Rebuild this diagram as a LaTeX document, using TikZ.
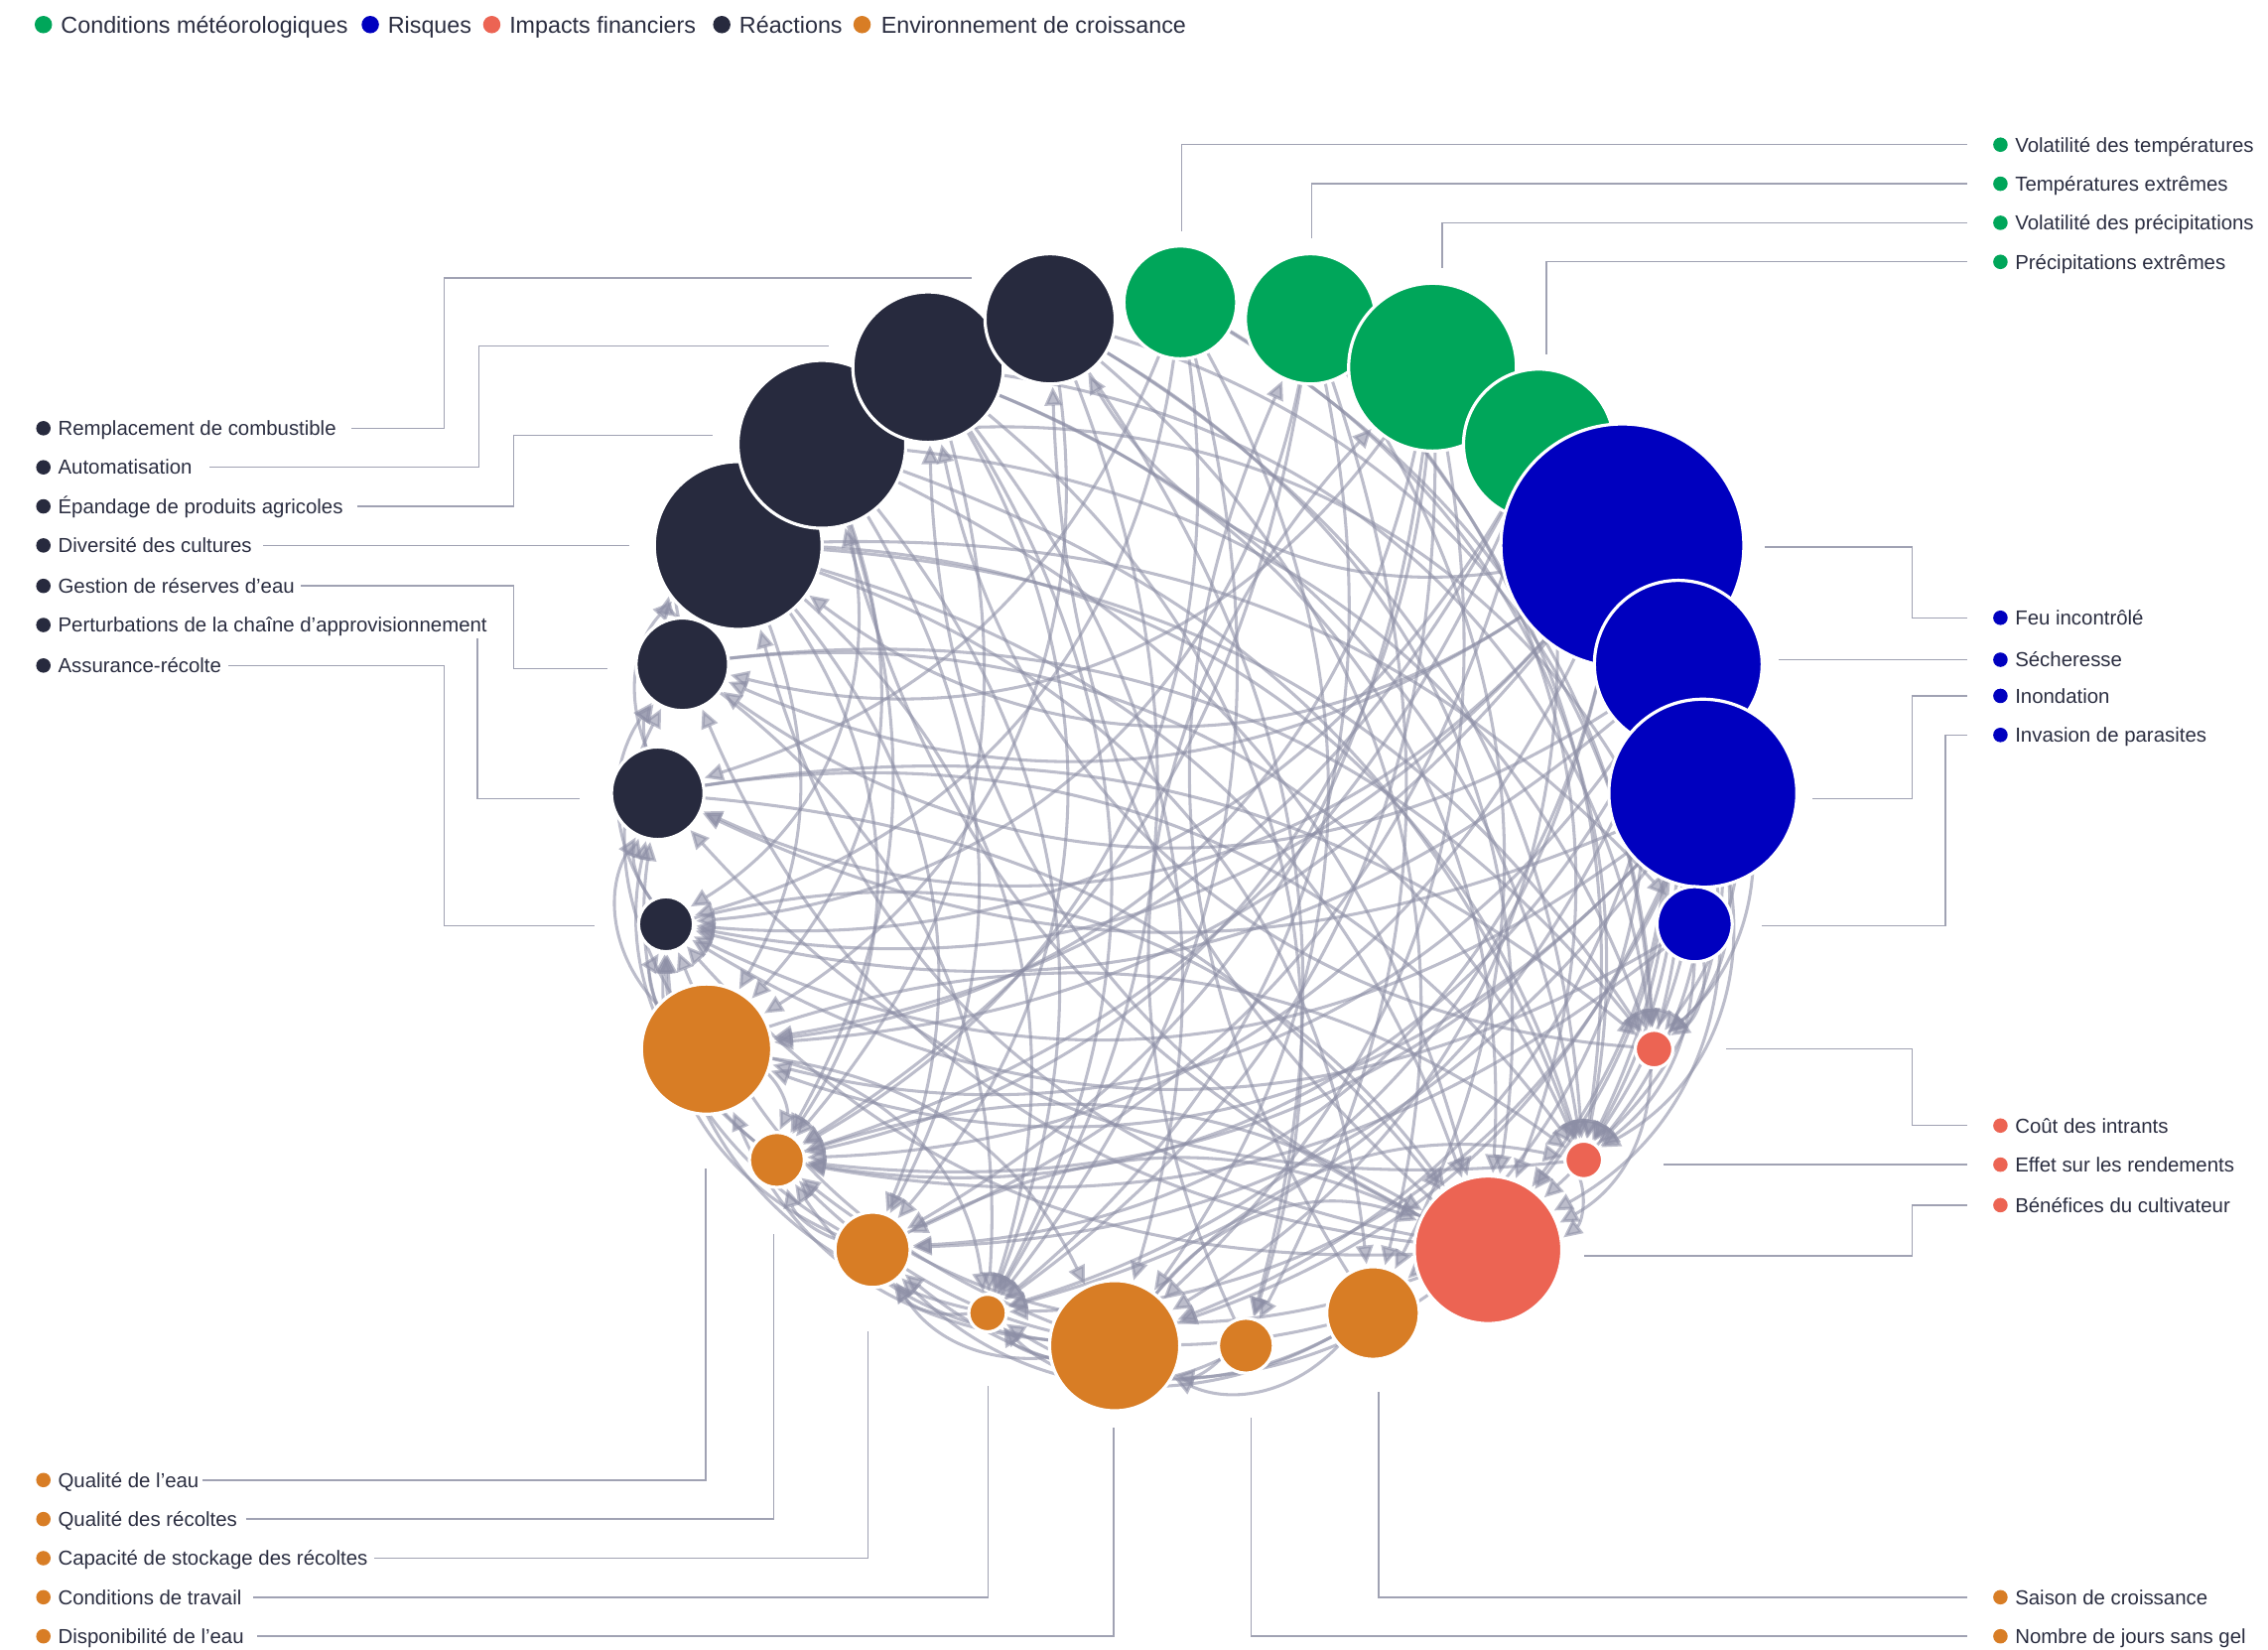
\documentclass[tikz,border=0pt]{standalone}
\usepackage{fontspec}
\setmainfont{Liberation Sans}
\usetikzlibrary{arrows.meta}
\definecolor{cW}{HTML}{00A65A}
\definecolor{cR}{HTML}{0000BF}
\definecolor{cF}{HTML}{EC6453}
\definecolor{cA}{HTML}{272A3E}
\definecolor{cG}{HTML}{D87D25}
\definecolor{txt}{HTML}{2A2D40}
\definecolor{lead}{HTML}{A0A2B3}
\definecolor{edg}{HTML}{8C8EA5}
\pgfdeclarelayer{bg}
\pgfsetlayers{bg,main}
\begin{document}
\begin{tikzpicture}[x=1pt,y=-1pt,
  bub/.style={circle,inner sep=0pt,outer sep=0pt,draw=white,line width=2.2pt},
  rel/.style={draw=edg,line width=2.1pt,opacity=0.58,-{Triangle[length=13pt,width=12pt]},shorten >=2pt},
  leader/.style={draw=lead,line width=1pt},
  lab/.style={anchor=base west,inner sep=0pt,text=txt,font=\fontsize{14}{16}\selectfont},
  leg/.style={anchor=base west,inner sep=0pt,text=txt,font=\fontsize{16}{18}\selectfont}]
\useasboundingbox (0,0) rectangle (1568,1140);

% ---------- legend ----------
\fill[cW] (30,17) circle (6);  \node[leg] (l1) at (42,23) {Conditions météorologiques};
\fill[cR] (256,17) circle (6); \node[leg] (l2) at (268,23) {Risques};
\fill[cF] (340,17) circle (6); \node[leg] (l3) at (352,23) {Impacts financiers};
\fill[cA] (499,17) circle (6); \node[leg] (l4) at (511,23) {Réactions};
\fill[cG] (596,17) circle (6); \node[leg] (l5) at (609,23) {Environnement de croissance};

% ---------- bubbles on the ring ----------
\foreach \k/\n/\r/\c in {0/vt/39/cW,1/te/45/cW,2/vp/58/cW,3/pe/52/cW,
  4/feu/84/cR,5/sec/58/cR,6/ino/65/cR,7/inv/26/cR,
  8/cout/13/cF,9/eff/13/cF,10/ben/51/cF,
  11/sai/32/cG,12/nj/19/cG,13/dis/45/cG,14/ct/13/cG,15/cap/26/cG,16/qr/19/cG,17/qe/45/cG,
  18/ass/19/cA,19/pert/32/cA,20/gest/32/cA,21/div/58/cA,22/epa/58/cA,23/aut/52/cA,24/rem/45/cA}
  \path (816,571) ++(14.4*\k-90:362) node[bub,fill=\c,minimum size={2*\r}] (\n) {};

% ---------- relations ----------
\begin{pgfonlayer}{bg}
\foreach \s/\tl [count=\j] in {
  vt/{eff,cout,qr,ct,ass,pert,dis},
  te/{eff,ben,qr,ct,nj,sai,ass},
  vp/{inv,eff,cout,qr,dis,qe,ct,gest,cap},
  pe/{ino,eff,ben,qe,dis,cap,ass,qr},
  feu/{eff,cout,ben,qr,qe,ct,cap,ass,pert,gest,div,sai,rem},
  sec/{eff,cout,ben,qr,dis,qe,ass,gest,ct},
  ino/{eff,cout,ben,qr,qe,cap,ct,pert,ass,dis},
  inv/{eff,cout,qr,ass},
  cout/{ben,aut},
  eff/{ben,pert},
  ben/{ass,div,epa,aut,rem,gest,cap,qr},
  sai/{ct,cap,qr,dis,te},
  nj/{ct,dis,vp},
  dis/{ct,cap,qr,qe,ass,eff,ben},
  ct/{cap,ass},
  cap/{ass,qr,pert,ben},
  qr/{ass,pert,ben},
  qe/{ass,pert,gest,qr,dis,ct,eff},
  ass/{gest,pert,ben},
  pert/{gest,div,cout,eff,ben},
  gest/{div,epa,cout,eff,ct},
  div/{eff,ben,qr,cout,ct,qe,sai,inv,cap},
  epa/{eff,cout,ben,qe,qr,ct,inv,cap,ass},
  aut/{ct,cout,eff,ben,qr,cap,dis,nj},
  rem/{cout,eff,ben,ct,qe,nj,sai}}
  {\foreach \t [count=\i] in \tl {
     \pgfmathtruncatemacro\bnd{23+mod(7*\i+5*\j,15)}
     \draw[rel] (\s) to[bend left=\bnd] (\t);}}
\end{pgfonlayer}

% ---------- labels : right ----------
\foreach \n/\y/\c/\txt in {
  vt/100/cW/{Volatilité des températures},
  te/127/cW/{Températures extrêmes},
  vp/154/cW/{Volatilité des précipitations},
  pe/181/cW/{Précipitations extrêmes},
  feu/427/cR/{Feu incontrôlé},
  sec/456/cR/{Sécheresse},
  ino/481/cR/{Inondation},
  inv/508/cR/{Invasion de parasites},
  cout/778/cF/{Coût des intrants},
  eff/805/cF/{Effet sur les rendements},
  ben/833/cF/{Bénéfices du cultivateur},
  sai/1104/cG/{Saison de croissance},
  nj/1131/cG/{Nombre de jours sans gel}}
  {\fill[\c] (1383,\y) circle (5);
   \node[lab] (\n T) at (1393,\y+5) {\txt};
   \coordinate (\n L) at (1360,\y);}

% ---------- labels : left ----------
\foreach \n/\y/\c/\txt in {
  rem/296/cA/{Remplacement de combustible},
  aut/323/cA/{Automatisation},
  epa/350/cA/{Épandage de produits agricoles},
  div/377/cA/{Diversité des cultures},
  gest/405/cA/{Gestion de réserves d’eau},
  pert/432/cA/{Perturbations de la chaîne d’approvisionnement},
  ass/460/cA/{Assurance-récolte},
  qe/1023/cG/{Qualité de l’eau},
  qr/1050/cG/{Qualité des récoltes},
  cap/1077/cG/{Capacité de stockage des récoltes},
  ct/1104/cG/{Conditions de travail},
  dis/1131/cG/{Disponibilité de l’eau}}
  {\fill[\c] (30,\y) circle (5);
   \node[lab] (\n T) at (40,\y+5) {\txt};}

% ---------- leader lines ----------
\coordinate (vtP) at (817,160);
\coordinate (teP) at (907,165);
\coordinate (vpP) at (997,185);
\coordinate (peP) at (1069,245);
\coordinate (feuP) at (1220,378);
\coordinate (secP) at (1230,456);
\coordinate (inoP) at (1253,552);
\coordinate (invP) at (1218,640);
\coordinate (coutP) at (1193,725);
\coordinate (effP) at (1150,805);
\coordinate (benP) at (1095,868);
\coordinate (saiP) at (953,962);
\coordinate (njP) at (865,980);
\coordinate (remP) at (672,192);
\coordinate (autP) at (573,239);
\coordinate (epaP) at (493,301);
\coordinate (divP) at (435,378);
\coordinate (gestP) at (420,462);
\coordinate (pertP) at (401,552);
\coordinate (assP) at (411,640);
\coordinate (qeP) at (488,808);
\coordinate (qrP) at (535,853);
\coordinate (capP) at (600,920);
\coordinate (ctP) at (683,958);
\coordinate (disP) at (770,987);

\coordinate (remL) at (243,296);
\coordinate (autL) at (145,323);
\coordinate (epaL) at (247,350);
\coordinate (divL) at (182,377);
\coordinate (gestL) at (208,405);
\coordinate (pertL) at (330,441);
\coordinate (assL) at (158,460);
\coordinate (qeL) at (140,1023);
\coordinate (qrL) at (170,1050);
\coordinate (capL) at (259,1077);
\coordinate (ctL) at (175,1104);
\coordinate (disL) at (178,1131);

\draw[leader] (vtL) -| (vtP);
\draw[leader] (teL) -| (teP);
\draw[leader] (vpL) -| (vpP);
\draw[leader] (peL) -| (peP);
\draw[leader] (feuL) -- ++(-38,0) |- (feuP);
\draw[leader] (secL) -- (secP);
\draw[leader] (inoL) -- ++(-38,0) |- (inoP);
\draw[leader] (invL) -- ++(-15,0) |- (invP);
\draw[leader] (coutL) -- ++(-38,0) |- (coutP);
\draw[leader] (effL) -- (effP);
\draw[leader] (benL) -- ++(-38,0) |- (benP);
\draw[leader] (saiL) -| (saiP);
\draw[leader] (njL) -| (njP);

\draw[leader] (remL) -- ++(64,0) |- (remP);
\draw[leader] (autL) -- ++(186,0) |- (autP);
\draw[leader] (epaL) -- ++(108,0) |- (epaP);
\draw[leader] (divL) -- (divL -| divP);
\draw[leader] (gestL) -- ++(147,0) |- (gestP);
\draw[leader] (pertL) |- (pertP);
\draw[leader] (assL) -- ++(149,0) |- (assP);
\draw[leader] (qeL) -| (qeP);
\draw[leader] (qrL) -| (qrP);
\draw[leader] (capL) -| (capP);
\draw[leader] (ctL) -| (ctP);
\draw[leader] (disL) -| (disP);
\end{tikzpicture}
\end{document}
